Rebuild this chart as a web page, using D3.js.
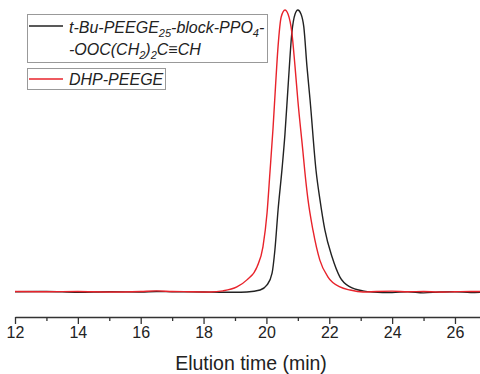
<!DOCTYPE html>
<html>
<head>
<meta charset="utf-8">
<script src="https://cdn.jsdelivr.net/npm/d3@7"></script>
<style>
  body { margin: 0; background: #fff; }
  svg { display: block; font-family: "Liberation Sans", Arial, sans-serif; }
</style>
</head>
<body>
<div id="chart"></div>
<script>
// Elution time (min) and normalised detector signal
const blackTime = [12, 13, 14, 15, 16, 16.5, 17, 18, 18.6, 19.0, 19.38, 19.8, 20.02, 20.18, 20.27, 20.37, 20.5, 20.59, 20.69, 20.81, 20.91, 21.0, 21.1, 21.19, 21.29, 21.39, 21.58, 21.7, 21.86, 22.09, 22.34, 22.66, 23.07, 23.39, 24, 24.5, 25, 25.5, 26, 26.5, 27];
const blackSignal = [0.001, 0.002, -0.001, 0.001, 0.0, 0.002, 0.001, 0.0, -0.001, -0.001, 0.0, 0.007, 0.025, 0.067, 0.149, 0.29, 0.44, 0.56, 0.73, 0.92, 0.985, 1.0, 0.986, 0.94, 0.8, 0.68, 0.43, 0.33, 0.22, 0.124, 0.053, 0.018, 0.004, 0.0, -0.002, 0.001, -0.003, 0.0, 0.001, -0.002, 0.0];

const redTime = [12, 13, 14, 15, 16, 16.5, 17, 17.5, 18.2, 18.62, 19.06, 19.38, 19.7, 19.89, 20.02, 20.11, 20.21, 20.29, 20.37, 20.47, 20.59, 20.69, 20.81, 20.91, 21.0, 21.16, 21.22, 21.32, 21.48, 21.7, 21.96, 22.34, 22.66, 23.07, 23.5, 24, 24.5, 25, 25.5, 26, 26.5, 27];
const redSignal = [0.002, 0.001, 0.002, 0.0, 0.002, 0.004, 0.002, 0.001, 0.0, 0.004, 0.018, 0.043, 0.089, 0.16, 0.28, 0.42, 0.58, 0.73, 0.87, 0.975, 1.0, 0.985, 0.92, 0.8, 0.68, 0.5, 0.43, 0.33, 0.22, 0.113, 0.053, 0.018, 0.007, 0.0, 0.002, 0.003, 0.001, 0.002, 0.0, 0.001, 0.002, 0.001];

const majorTicks = [12, 14, 16, 18, 20, 22, 24, 26];
const minorTicks = [13, 15, 17, 19, 21, 23, 25, 27];

const width = 480, height = 374;

const svg = d3.select("#chart")
  .append("svg")
    .attr("width", width)
    .attr("height", height);

// scales
const x = d3.scaleLinear()
  .domain([12, 27])
  .range([15, 486.4]);

const y = d3.scaleLinear()
  .domain([0, 1])
  .range([292, 10]);

const axisY = 317;

// minor ticks
svg.append("g")
  .attr("transform", `translate(0,${axisY})`)
  .call(d3.axisBottom(x).tickValues(minorTicks).tickSize(4).tickSizeOuter(0).tickFormat(""))
  .call(g => g.select(".domain").remove())
  .call(g => g.selectAll("line").attr("stroke", "#333").attr("stroke-width", 1.3));

// major ticks
svg.append("g")
  .attr("transform", `translate(0,${axisY})`)
  .call(d3.axisBottom(x).tickValues(majorTicks).tickSize(7).tickSizeOuter(0).tickPadding(3))
  .call(g => g.select(".domain").attr("stroke", "#333").attr("stroke-width", 1.3))
  .call(g => g.selectAll("line").attr("stroke", "#333").attr("stroke-width", 1.3))
  .call(g => g.selectAll("text")
    .attr("fill", "#222")
    .style("font-size", "16px")
    .style("font-family", "'Liberation Sans', Arial, sans-serif"));

// X axis label
svg.append("text")
  .attr("x", 251)
  .attr("y", 370)
  .attr("text-anchor", "middle")
  .attr("fill", "#222")
  .style("font-size", "19.5px")
  .text("Elution time (min)");

// curves
const line = d3.line()
  .x(d => x(d[0]))
  .y(d => y(d[1]))
  .curve(d3.curveMonotoneX);

svg.append("path")
  .datum(d3.zip(blackTime, blackSignal))
  .attr("fill", "none")
  .attr("stroke", "#222")
  .attr("stroke-width", 1.4)
  .attr("d", line);

svg.append("path")
  .datum(d3.zip(redTime, redSignal))
  .attr("fill", "none")
  .attr("stroke", "#e8232b")
  .attr("stroke-width", 1.4)
  .attr("d", line);

// Legend
const legend = svg.append("g")
  .style("font-size", "16px")
  .style("font-style", "italic")
  .attr("fill", "#222");

legend.append("rect")
  .attr("x", 27.5).attr("y", 14.5)
  .attr("width", 240).attr("height", 48)
  .attr("fill", "#fff").attr("stroke", "#999");

legend.append("rect")
  .attr("x", 27.5).attr("y", 68.5)
  .attr("width", 138).attr("height", 21)
  .attr("fill", "#fff").attr("stroke", "#999");

legend.append("line")
  .attr("x1", 29).attr("x2", 63).attr("y1", 26).attr("y2", 26)
  .attr("stroke", "#222").attr("stroke-width", 1.4);

legend.append("line")
  .attr("x1", 29).attr("x2", 63).attr("y1", 79).attr("y2", 79)
  .attr("stroke", "#e8232b").attr("stroke-width", 1.4);

const t1 = legend.append("text").attr("x", 69).attr("y", 33);
t1.append("tspan").text("t-Bu-PEEGE");
t1.append("tspan").attr("dy", 4).style("font-size", "11px").text("25");
t1.append("tspan").attr("dy", -4).text("-block-PPO");
t1.append("tspan").attr("dy", 4).style("font-size", "11px").text("4");
t1.append("tspan").attr("dy", -4).text("-");

const t2 = legend.append("text").attr("x", 69).attr("y", 55);
t2.append("tspan").text("-OOC(CH");
t2.append("tspan").attr("dy", 4).style("font-size", "11px").text("2");
t2.append("tspan").attr("dy", -4).text(")");
t2.append("tspan").attr("dy", 4).style("font-size", "11px").text("2");
t2.append("tspan").attr("dy", -4).text("C\u2261CH");

legend.append("text").attr("x", 69).attr("y", 85).text("DHP-PEEGE");
</script>
</body>
</html>
